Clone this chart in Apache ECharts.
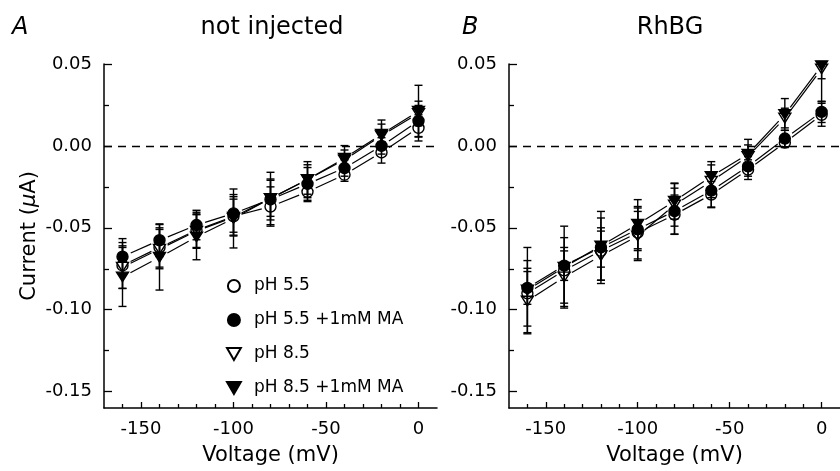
<!DOCTYPE html>
<html><head><meta charset="utf-8">
<script src="https://cdn.jsdelivr.net/npm/echarts@6/dist/echarts.min.js"></script>
<style>html,body{margin:0;padding:0;background:#fff}#c{width:840px;height:471px}</style>
</head><body><div id="c"></div>
<script>
// ---------- data ----------
const voltage = [-160, -140, -120, -100, -80, -60, -40, -20, 0];
const seriesNames = ['pH 5.5', 'pH 5.5 +1mM MA', 'pH 8.5', 'pH 8.5 +1mM MA'];

// Panel A: not injected
const A_ph55     = [-0.073, -0.062, -0.0515, -0.043, -0.037, -0.028, -0.0176, -0.004, 0.011];
const A_ph55MA   = [-0.0676, -0.0576, -0.0483, -0.0412, -0.0327, -0.0232, -0.0135, 0.000, 0.0152];
const A_ph85     = [-0.074, -0.063, -0.052, -0.0435, -0.032, -0.0205, -0.0085, 0.0063, 0.0198];
const A_ph85MA   = [-0.080, -0.068, -0.0555, -0.0443, -0.0321, -0.0206, -0.0075, 0.0071, 0.0212];
const A_ph55_err   = [0.014, 0.012, 0.011, 0.012, 0.012, 0.006, 0.004, 0.0065, 0.008];
const A_ph55MA_err = [0.011, 0.010, 0.009, 0.0115, 0.0125, 0.010, 0.005, 0.005, 0.0095];
const A_ph85_err   = [0.013, 0.012, 0.010, 0.011, 0.011, 0.009, 0.006, 0.007, 0.0075];
const A_ph85MA_err = [0.018, 0.020, 0.014, 0.018, 0.016, 0.011, 0.0077, 0.0087, 0.0158];

// Panel B: RhBG
const B_ph55     = [-0.090, -0.076, -0.064, -0.053, -0.042, -0.0297, -0.0145, 0.002, 0.019];
const B_ph55MA   = [-0.0867, -0.0731, -0.062, -0.0509, -0.0398, -0.0273, -0.0125, 0.0045, 0.0208];
const B_ph85     = [-0.0947, -0.080, -0.067, -0.055, -0.036, -0.0216, -0.0064, 0.017, 0.047];
const B_ph85MA   = [-0.088, -0.074, -0.061, -0.0478, -0.0337, -0.0186, -0.005, 0.0192, 0.049];
const B_ph55_err   = [0.020, 0.020, 0.020, 0.016, 0.012, 0.008, 0.006, 0.003, 0.007];
const B_ph55MA_err = [0.010, 0.009, 0.012, 0.013, 0.014, 0.010, 0.006, 0.005, 0.0065];
const B_ph85_err   = [0.020, 0.018, 0.015, 0.015, 0.013, 0.010, 0.007, 0.006, 0.006];
const B_ph85MA_err = [0.026, 0.025, 0.021, 0.015, 0.011, 0.009, 0.009, 0.0097, 0.022];

// ticks
const xMajorTicks = [-150, -100, -50, 0];
const xMinorTicks = [-160, -140, -130, -120, -110, -90, -80, -70, -60, -40, -30, -20, -10];
const yMajorTicks = [-0.15, -0.10, -0.05, 0.00, 0.05];
const yMinorTicks = [-0.125, -0.075, -0.025, 0.025];

const panelTitles = ['not injected', 'RhBG'];
const panelLetters = ['A', 'B'];

// ---------- build ----------
const FONT = 'DejaVu Sans';
const DOWN_TRI = 'path://M0,0L12,0L6,10.4Z';
const symbolDefs = [
  {symbol: 'circle', size: 11, fill: 'rgba(0,0,0,0)'},
  {symbol: 'circle', size: 11, fill: '#000'},
  {symbol: DOWN_TRI, size: [12, 11], fill: 'rgba(0,0,0,0)'},
  {symbol: DOWN_TRI, size: [12, 11], fill: '#000'}
];
const panels = [
  {vals: [A_ph55, A_ph55MA, A_ph85, A_ph85MA], errs: [A_ph55_err, A_ph55MA_err, A_ph85_err, A_ph85MA_err]},
  {vals: [B_ph55, B_ph55MA, B_ph85, B_ph85MA], errs: [B_ph55_err, B_ph55MA_err, B_ph85_err, B_ph85MA_err]}
];

const GAP = 9;
function segRender(params, api) {
  const p0 = api.coord([api.value(0), api.value(1)]);
  const p1 = api.coord([api.value(2), api.value(3)]);
  const dx = p1[0] - p0[0], dy = p1[1] - p0[1];
  const L = Math.hypot(dx, dy);
  if (L <= 2 * GAP) return null;
  const ux = dx / L, uy = dy / L;
  return {type: 'line', shape: {x1: p0[0] + ux * GAP, y1: p0[1] + uy * GAP, x2: p1[0] - ux * GAP, y2: p1[1] - uy * GAP},
          style: {stroke: '#000', lineWidth: 1.2}};
}
function errRender(params, api) {
  const x = api.value(0), y = api.value(1), e = api.value(2);
  const t = api.coord([x, y + e]), b = api.coord([x, y - e]);
  const hw = 4;
  const st = {stroke: '#000', lineWidth: 1.4};
  return {type: 'group', children: [
    {type: 'line', shape: {x1: t[0], y1: t[1], x2: b[0], y2: b[1]}, style: st},
    {type: 'line', shape: {x1: t[0] - hw, y1: t[1], x2: t[0] + hw, y2: t[1]}, style: st},
    {type: 'line', shape: {x1: b[0] - hw, y1: b[1], x2: b[0] + hw, y2: b[1]}, style: st}
  ]};
}

const axisLineStyle = {color: '#000', width: 1.5};
const xAxes = [], yAxes = [], grids = [], series = [];
const gridLefts = [104, 509];
panels.forEach((p, gi) => {
  grids.push({left: gridLefts[gi], top: 64, width: 333, height: 347});
  xAxes.push({
    gridIndex: gi, type: 'value', min: -170, max: 10, position: 'bottom',
    axisLine: {show: true, onZero: false, lineStyle: axisLineStyle},
    axisTick: {show: true, inside: true, length: 6, customValues: xMajorTicks, lineStyle: {color: '#000', width: 1.3}},
    axisLabel: {customValues: xMajorTicks, margin: 12, color: '#000', fontSize: 18, fontFamily: FONT},
    splitLine: {show: false},
    name: 'Voltage (mV)', nameLocation: 'middle', nameGap: 37,
    nameTextStyle: {color: '#000', fontSize: 21, fontFamily: FONT}
  });
  xAxes.push({
    gridIndex: gi, type: 'value', min: -170, max: 10, position: 'bottom', offset: 0,
    axisLine: {show: false, onZero: false},
    axisTick: {show: true, inside: true, length: 4, customValues: xMinorTicks, lineStyle: {color: '#000', width: 1.3}},
    axisLabel: {show: false}, splitLine: {show: false}
  });
  const ya = {
    gridIndex: gi, type: 'value', min: -0.16, max: 0.05, position: 'left',
    axisLine: {show: true, onZero: false, lineStyle: axisLineStyle},
    axisTick: {show: true, inside: true, length: 8, customValues: yMajorTicks, lineStyle: {color: '#000', width: 1.3}},
    axisLabel: {customValues: yMajorTicks, margin: 12, color: '#000', fontSize: 18, fontFamily: FONT,
                formatter: v => v.toFixed(2)},
    splitLine: {show: false}
  };
  if (gi === 0) {
    ya.name = 'Current ({i|\u03bc}A)';
    ya.nameLocation = 'middle';
    ya.nameGap = 64;
    ya.nameTextStyle = {color: '#000', fontSize: 21, fontFamily: FONT,
      rich: {i: {fontStyle: 'italic', fontSize: 21, fontFamily: FONT, color: '#000'}}};
  }
  yAxes.push(ya);
  yAxes.push({
    gridIndex: gi, type: 'value', min: -0.16, max: 0.05, position: 'left', offset: 0,
    axisLine: {show: false, onZero: false},
    axisTick: {show: true, inside: true, length: 5, customValues: yMinorTicks, lineStyle: {color: '#000', width: 1.3}},
    axisLabel: {show: false}, splitLine: {show: false}
  });
  const xi = gi * 2, yi = gi * 2;
  p.vals.forEach((vals, si) => {
    const segs = [];
    for (let i = 1; i < voltage.length; i++) segs.push([voltage[i - 1], vals[i - 1], voltage[i], vals[i]]);
    series.push({type: 'custom', xAxisIndex: xi, yAxisIndex: yi, renderItem: segRender, data: segs,
                 encode: {x: [0, 2], y: [1, 3]}, z: 2, silent: true, clip: true});
    series.push({type: 'custom', xAxisIndex: xi, yAxisIndex: yi, renderItem: errRender,
                 data: voltage.map((v, i) => [v, vals[i], p.errs[si][i]]),
                 encode: {x: 0, y: 1}, z: 3, silent: true, clip: true});
  });
  p.vals.forEach((vals, si) => {
    const sd = symbolDefs[si];
    const s = {
      type: 'scatter', name: seriesNames[si], xAxisIndex: xi, yAxisIndex: yi,
      symbol: sd.symbol, symbolSize: sd.size, symbolKeepAspect: true,
      itemStyle: {color: sd.fill, borderColor: '#000', borderWidth: 1.4, opacity: 1},
      data: voltage.map((v, i) => [v, vals[i]]), z: 4, silent: true
    };
    if (si === 0) {
      s.markLine = {silent: true, symbol: 'none', label: {show: false},
        lineStyle: {color: '#000', type: [8, 6], width: 1.3}, data: [{yAxis: 0}], animation: false};
    }
    series.push(s);
  });
});

const graphics = [
  {type: 'text', x: 12, y: 28, style: {text: panelLetters[0], fontSize: 24, fontStyle: 'italic', fontFamily: FONT, fill: '#000', align: 'left', verticalAlign: 'middle'}},
  {type: 'text', x: 272, y: 28, style: {text: panelTitles[0], fontSize: 24, fontFamily: FONT, fill: '#000', align: 'center', verticalAlign: 'middle'}},
  {type: 'text', x: 462, y: 28, style: {text: panelLetters[1], fontSize: 24, fontStyle: 'italic', fontFamily: FONT, fill: '#000', align: 'left', verticalAlign: 'middle'}},
  {type: 'text', x: 670, y: 28, style: {text: panelTitles[1], fontSize: 24, fontFamily: FONT, fill: '#000', align: 'center', verticalAlign: 'middle'}}
];

const chart = echarts.init(document.getElementById('c'), null, {renderer: 'canvas'});
chart.setOption({
  animation: false,
  backgroundColor: '#fff',
  grid: grids, xAxis: xAxes, yAxis: yAxes,
  legend: {orient: 'vertical', left: 221, top: 272, itemWidth: 30, itemHeight: 12, itemGap: 16,
    data: seriesNames, selectedMode: false,
    textStyle: {color: '#000', fontSize: 17, fontFamily: FONT, lineHeight: 18}},
  graphic: graphics,
  series: series
});
</script>
</body></html>
